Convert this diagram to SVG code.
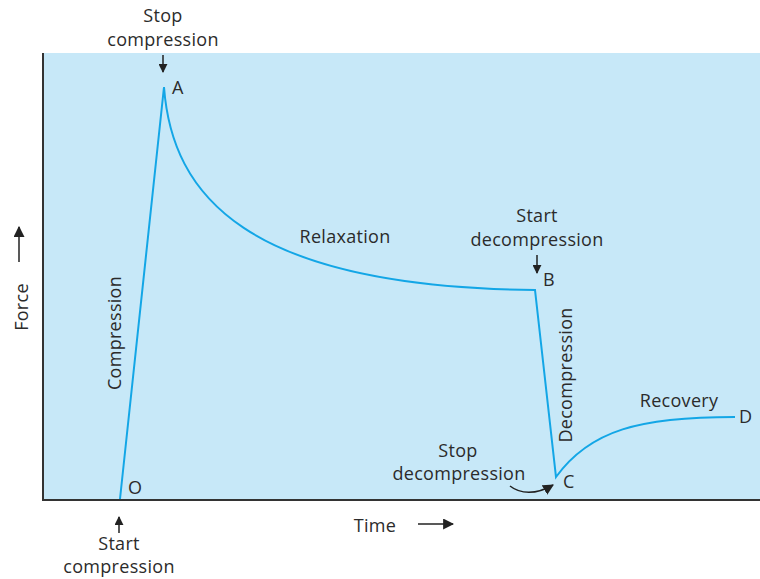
<svg xmlns="http://www.w3.org/2000/svg" width="760" height="579" viewBox="0 0 760 579">
<style>
text{font-family:"Open Sans","Liberation Sans",sans-serif;font-size:18px;fill:#2b2b2b;letter-spacing:0.3px}
.mid{text-anchor:middle}
.curve{fill:none;stroke:#13a6e6;stroke-width:2;stroke-linejoin:miter}
.arr{fill:none;stroke:#222;stroke-width:1.5}
.axis{stroke:#333;stroke-width:2;fill:none}
</style>
<defs>
<marker id="ah" viewBox="0 0 10 10" refX="9" refY="5" markerWidth="9" markerHeight="9" markerUnits="userSpaceOnUse" orient="auto">
<path d="M0,0 L10,5 L0,10 Z" fill="#222"/>
</marker>
<marker id="ahL" viewBox="0 0 10 10" refX="9" refY="5" markerWidth="11" markerHeight="11" markerUnits="userSpaceOnUse" orient="auto">
<path d="M0,0 L10,5 L0,10 Z" fill="#222"/>
</marker>
</defs>
<g id="plot">
<rect x="43" y="53" width="717" height="447" fill="#c7e8f8"/>
<path class="axis" d="M43,53 V500 H760"/>
</g>
<g id="connectors">
<path class="curve" d="M120,499 L164,87 C172,195 245,287 535,290 L556,477 C590,430 640,417 735,417"/>
<path class="arr" d="M163,55 V72" marker-end="url(#ah)"/>
<path class="arr" d="M537,255 V273" marker-end="url(#ah)"/>
<path class="arr" d="M119,533 V517" marker-end="url(#ah)"/>
<path class="arr" d="M19,262 V227" marker-end="url(#ahL)"/>
<path class="arr" d="M418,524 H453" marker-end="url(#ahL)"/>
<path class="arr" d="M510,486 C520,494 536,495 553,485" marker-end="url(#ahL)"/>
</g>
<g id="labels">
<text class="mid" x="163" y="22">Stop</text>
<text class="mid" x="163" y="46">compression</text>
<text x="172" y="94">A</text>
<text class="mid" x="537" y="222">Start</text>
<text class="mid" x="537" y="246">decompression</text>
<text x="543" y="286">B</text>
<text class="mid" x="345" y="243">Relaxation</text>
<text class="mid" transform="translate(121,333) rotate(-90)">Compression</text>
<text class="mid" transform="translate(572,375) rotate(-90)">Decompression</text>
<text class="mid" transform="translate(28,307) rotate(-90)">Force</text>
<text class="mid" x="679" y="407">Recovery</text>
<text x="739" y="423">D</text>
<text class="mid" x="458" y="457">Stop</text>
<text class="mid" x="459" y="480">decompression</text>
<text x="563" y="488">C</text>
<text x="128" y="494">O</text>
<text class="mid" x="375" y="532">Time</text>
<text class="mid" x="119" y="550">Start</text>
<text class="mid" x="119" y="573">compression</text>
</g>
</svg>
